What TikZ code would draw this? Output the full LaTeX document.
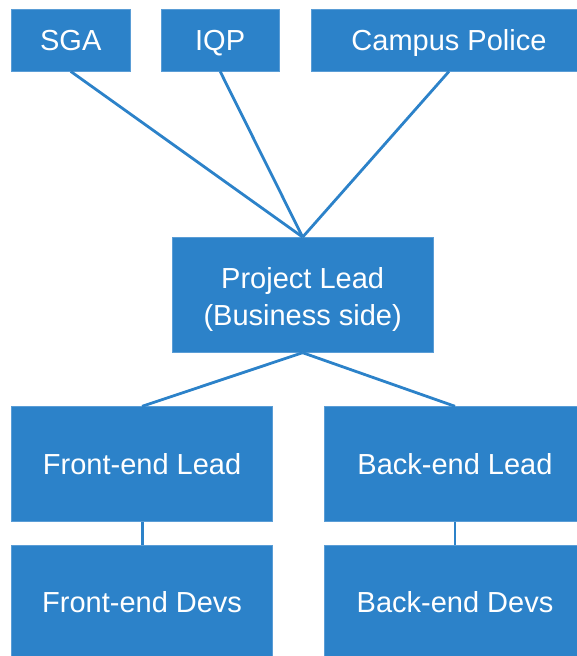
\documentclass[tikz,border=0pt]{standalone}
\usepackage{fontspec}
\setmainfont{Liberation Sans}
\definecolor{boxblue}{HTML}{2C82C9}
\definecolor{edgeblue}{HTML}{5A9DD6}
\begin{document}
\begin{tikzpicture}[x=1pt,y=-1pt,
  box/.style={rectangle, fill=boxblue, draw=edgeblue, line width=0.8pt, inner sep=0pt,
    text=white, font=\fontsize{29}{37}\selectfont},
  oneline/.style={box, text height=26pt, text depth=5.24pt},
  twoline/.style={box, align=center},
  link/.style={draw=boxblue, line width=2.8pt}]
\useasboundingbox (0,0) rectangle (577,656);
\clip (0,0) rectangle (577,656);
\node[oneline, minimum width=118.5pt, minimum height=61.5pt] (sga) at (70.75,40.25) {SGA};
\node[oneline, minimum width=118.3pt, minimum height=61.5pt] (iqp) at (220.15,40.25) {IQP};
\node[oneline, minimum width=276pt, minimum height=61.5pt] (cp) at (449,40.25) {Campus Police};
\node[twoline, minimum width=261.3pt, minimum height=114.8pt] (pl) at (302.65,294.9) {\rule{0pt}{30pt}Project Lead\\(Business side)};
\node[oneline, minimum width=261.2pt, minimum height=115pt] (fel) at (142.1,464.2) {Front-end Lead};
\node[oneline, minimum width=261.4pt, minimum height=115pt] (bel) at (455,464.2) {Back-end Lead};
\node[oneline, minimum width=261.2pt, minimum height=115pt] (fed) at (142.1,602.5) {Front-end Devs};
\node[oneline, minimum width=261.4pt, minimum height=115pt] (bed) at (455,602.5) {Back-end Devs};
\draw[link] (sga.south) -- (pl.north);
\draw[link] (iqp.south) -- (pl.north);
\draw[link] (cp.south) -- (pl.north);
\draw[link] (pl.south) -- (fel.north);
\draw[link] (pl.south) -- (bel.north);
\draw[link] (fel.south) -- (fed.north);
\draw[link] (bel.south) -- (bed.north);
\end{tikzpicture}
\end{document}
